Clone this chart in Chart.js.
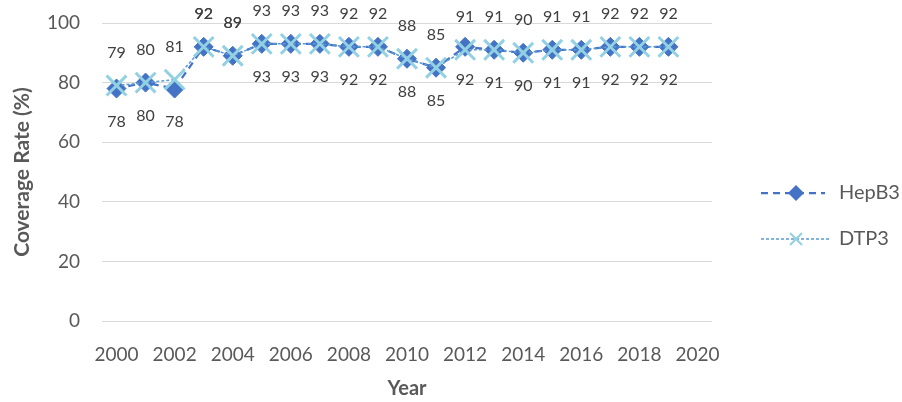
<!DOCTYPE html>
<html>
<head>
<meta charset="utf-8">
<script src="https://cdn.jsdelivr.net/npm/chart.js@4.4.0/dist/chart.umd.min.js"></script>
<style>
    html, body { margin: 0; padding: 0; background: #fff; }
</style>
</head>
<body>
<canvas id="coverageChart" width="902" height="402"></canvas>
<script>
// Immunization coverage (%)
const years = ["2000", "2001", "2002", "2003", "2004", "2005", "2006", "2007", "2008", "2009",
    "2010", "2011", "2012", "2013", "2014", "2015", "2016", "2017", "2018", "2019", "2020"];
const hepB3 = [78, 80, 78, 92, 89, 93, 93, 93, 92, 92, 88, 85, 92, 91, 90, 91, 91, 92, 92, 92, null];
const dtp3 = [79, 80, 81, 92, 89, 93, 93, 93, 92, 92, 88, 85, 91, 91, 90, 91, 91, 92, 92, 92, null];
const yTicks = [0, 20, 40, 60, 80, 100];
// HepB3 labels that sit above the point instead of below
const hepB3LabelsAbove = [3, 4];

const FONT = "Lato, 'Open Sans', sans-serif";
const HEP_COLOR = "#4472C4";
const DTP_LINE = "#5B9BD5";
const DTP_MARK = "#92D0E3";

const pointLabels = {
    id: "pointLabels",
    afterDatasetsDraw(chart) {
        const ctx = chart.ctx;
        ctx.save();
        ctx.font = "16px " + FONT;
        ctx.fillStyle = "#404040";
        ctx.textAlign = "center";
        ctx.textBaseline = "middle";
        chart.data.datasets.forEach((ds, di) => {
            const meta = chart.getDatasetMeta(di);
            meta.data.forEach((pt, i) => {
                const v = ds.data[i];
                if (v == null) return;
                const above = ds.label === "DTP3" || hepB3LabelsAbove.includes(i);
                ctx.fillText(String(v), pt.x, pt.y + (above ? -33 : 33));
            });
        });
        ctx.restore();
    },
};

const sideLegend = {
    id: "sideLegend",
    afterDraw(chart) {
        const ctx = chart.ctx;
        ctx.save();
        // HepB3 row
        let y = 193;
        ctx.strokeStyle = HEP_COLOR;
        ctx.lineWidth = 2.25;
        ctx.setLineDash([7, 5]);
        ctx.beginPath();
        ctx.moveTo(761, y);
        ctx.lineTo(825, y);
        ctx.stroke();
        ctx.setLineDash([]);
        ctx.fillStyle = HEP_COLOR;
        ctx.beginPath();
        ctx.moveTo(796, y - 8);
        ctx.lineTo(804, y);
        ctx.lineTo(796, y + 8);
        ctx.lineTo(788, y);
        ctx.closePath();
        ctx.fill();
        // DTP3 row
        y = 239;
        ctx.strokeStyle = DTP_LINE;
        ctx.lineWidth = 1.5;
        ctx.setLineDash([3, 2]);
        ctx.beginPath();
        ctx.moveTo(761, y);
        ctx.lineTo(830, y);
        ctx.stroke();
        ctx.setLineDash([]);
        ctx.strokeStyle = DTP_MARK;
        ctx.lineWidth = 2;
        ctx.beginPath();
        ctx.moveTo(790, y - 6);
        ctx.lineTo(802, y + 6);
        ctx.moveTo(802, y - 6);
        ctx.lineTo(790, y + 6);
        ctx.stroke();
        // texts
        ctx.font = "20px " + FONT;
        ctx.fillStyle = "#595959";
        ctx.textAlign = "left";
        ctx.textBaseline = "middle";
        ctx.fillText("HepB3", 839, 193);
        ctx.fillText("DTP3", 839, 239);
        ctx.restore();
    },
};

new Chart(document.getElementById("coverageChart"), {
    type: "line",
    data: {
        labels: years,
        datasets: [
            {
                label: "DTP3",
                data: dtp3,
                borderColor: DTP_LINE,
                borderWidth: 1.5,
                borderDash: [3, 2],
                pointStyle: "crossRot",
                pointRadius: 14,
                pointBorderWidth: 3,
                pointBorderColor: DTP_MARK,
                pointBackgroundColor: DTP_MARK,
                tension: 0,
                fill: false,
            },
            {
                label: "HepB3",
                data: hepB3,
                borderColor: HEP_COLOR,
                borderWidth: 2.25,
                borderDash: [7, 5],
                pointStyle: "rectRot",
                pointRadius: 9.5,
                pointBorderWidth: 1,
                pointBorderColor: HEP_COLOR,
                pointBackgroundColor: HEP_COLOR,
                tension: 0,
                fill: false,
            },
        ],
    },
    options: {
        responsive: false,
        animation: false,
        devicePixelRatio: 1,
        layout: {
            padding: { top: 23, right: 190, left: 0, bottom: 0 },
        },
        plugins: {
            legend: { display: false },
            tooltip: { enabled: false },
        },
        scales: {
            x: {
                type: "category",
                offset: true,
                grid: { display: false, drawTicks: false },
                border: { display: false },
                ticks: {
                    autoSkip: false,
                    maxRotation: 0,
                    padding: 22,
                    color: "#595959",
                    font: { family: FONT, size: 19 },
                    callback: (val, i) => (i % 2 === 0 ? years[i] : ""),
                },
                title: {
                    display: true,
                    text: "Year",
                    color: "#595959",
                    font: { family: FONT, size: 20, weight: "bold" },
                    padding: { top: 0, bottom: 1 },
                },
                afterFit: (scale) => {
                    scale.height = 81;
                },
            },
            y: {
                min: 0,
                max: 100,
                afterBuildTicks: (scale) => {
                    scale.ticks = yTicks.map((v) => ({ value: v }));
                },
                grid: { color: "#D9D9D9", lineWidth: 1, drawTicks: false },
                border: { display: false },
                ticks: {
                    padding: 22,
                    color: "#595959",
                    font: { family: FONT, size: 19 },
                },
                title: {
                    display: true,
                    text: "Coverage Rate (%)",
                    color: "#595959",
                    font: { family: FONT, size: 21, weight: "bold" },
                    padding: { top: 10, bottom: 0 },
                },
                afterFit: (scale) => {
                    scale.width = 102;
                    scale.paddingTop = 11;
                    scale.paddingBottom = 11;
                },
            },
        },
    },
    plugins: [pointLabels, sideLegend],
});
</script>
</body>
</html>
